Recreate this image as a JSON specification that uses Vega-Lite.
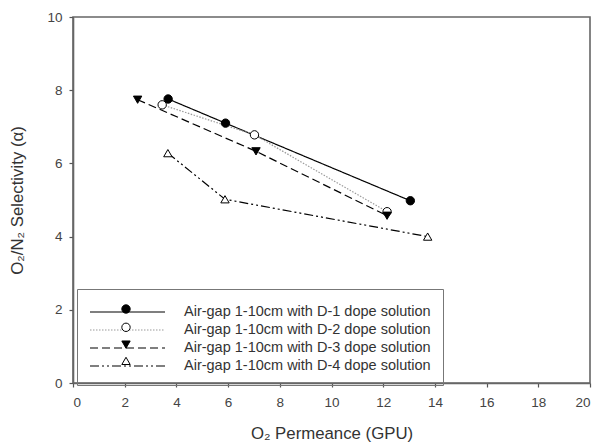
{
  "$schema": "https://vega.github.io/schema/vega-lite/v6.json",
  "width": 517,
  "height": 366,
  "autosize": {"type": "none"},
  "padding": {"left": 73, "top": 17, "right": 10, "bottom": 61},
  "background": "white",
  "config": {
    "font": "Liberation Sans",
    "view": {"stroke": "#666", "strokeWidth": 1.6},
    "axis": {
      "grid": false,
      "domainColor": "#666",
      "domainWidth": 1.6,
      "tickColor": "#555",
      "tickSize": 4,
      "tickWidth": 1.2,
      "labelFont": "Liberation Sans",
      "labelFontSize": 13.5,
      "labelColor": "#444",
      "titleFont": "Liberation Sans",
      "titleFontSize": 16.8,
      "titleFontWeight": "normal",
      "titleColor": "#333"
    }
  },
  "data": {
    "values": [
      {"series": "Air-gap 1-10cm with D-1 dope solution", "dope": "D-1", "permeance": 3.68, "selectivity": 7.76},
      {"series": "Air-gap 1-10cm with D-1 dope solution", "dope": "D-1", "permeance": 5.9, "selectivity": 7.1},
      {"series": "Air-gap 1-10cm with D-1 dope solution", "dope": "D-1", "permeance": 13.05, "selectivity": 4.98},
      {"series": "Air-gap 1-10cm with D-2 dope solution", "dope": "D-2", "permeance": 3.45, "selectivity": 7.6},
      {"series": "Air-gap 1-10cm with D-2 dope solution", "dope": "D-2", "permeance": 7.02, "selectivity": 6.78},
      {"series": "Air-gap 1-10cm with D-2 dope solution", "dope": "D-2", "permeance": 12.15, "selectivity": 4.68},
      {"series": "Air-gap 1-10cm with D-3 dope solution", "dope": "D-3", "permeance": 2.5, "selectivity": 7.74},
      {"series": "Air-gap 1-10cm with D-3 dope solution", "dope": "D-3", "permeance": 7.08, "selectivity": 6.33},
      {"series": "Air-gap 1-10cm with D-3 dope solution", "dope": "D-3", "permeance": 12.15, "selectivity": 4.57},
      {"series": "Air-gap 1-10cm with D-4 dope solution", "dope": "D-4", "permeance": 3.67, "selectivity": 6.28},
      {"series": "Air-gap 1-10cm with D-4 dope solution", "dope": "D-4", "permeance": 5.88, "selectivity": 5.02},
      {"series": "Air-gap 1-10cm with D-4 dope solution", "dope": "D-4", "permeance": 13.72, "selectivity": 4.0}
    ]
  },
  "encoding": {
    "x": {
      "field": "permeance", "type": "quantitative",
      "scale": {"domain": [0, 20], "nice": false, "zero": false},
      "axis": {"values": [0, 2, 4, 6, 8, 10, 12, 14, 16, 18, 20], "title": "O₂ Permeance (GPU)", "labelPadding": 8, "titlePadding": 17}
    },
    "y": {
      "field": "selectivity", "type": "quantitative",
      "scale": {"domain": [0, 10], "nice": false},
      "axis": {"values": [0, 2, 4, 6, 8, 10], "title": "O₂/N₂ Selectivity (α)", "labelPadding": 7, "titlePadding": 20}
    }
  },
  "layer": [
    {
      "mark": {"type": "line", "strokeWidth": 1.2},
      "encoding": {
        "strokeDash": {
          "field": "series", "type": "nominal",
          "scale": {"range": [[1, 0], [1.5, 1.5], [8, 4], [9, 3, 2, 3, 2, 3]]},
          "legend": {
            "orient": "none", "legendX": 4, "legendY": 272,
            "title": null,
            "symbolType": "M-1,0H6.5",
            "symbolSize": 400,
            "symbolStrokeWidth": 1.2,
            "labelFontSize": 14.5,
            "labelColor": "#333",
            "labelLimit": 400,
            "labelOffset": 73,
            "padding": 12,
            "rowPadding": -3.9,
            "strokeColor": "#777"
          }
        },
        "color": {
          "field": "series", "type": "nominal",
          "scale": {"range": ["#000000", "#9a9a9a", "#000000", "#000000"]}
        }
      }
    },
    {
      "mark": {"type": "point", "filled": true, "size": 70, "strokeWidth": 1, "opacity": 1},
      "encoding": {
        "shape": {
          "field": "dope", "type": "nominal",
          "scale": {"range": ["circle", "circle", "triangle-down", "triangle-up"]},
          "legend": {
            "orient": "none", "legendX": 38, "legendY": 277,
            "title": null,
            "symbolSize": 70,
            "symbolStrokeWidth": 1,
            "labelFontSize": 0.5,
            "labelOffset": 0,
            "labelColor": "transparent",
            "padding": 10,
            "rowPadding": 4.3
          }
        },
        "fill": {
          "field": "dope", "type": "nominal",
          "scale": {"range": ["black", "white", "black", "white"]}
        },
        "stroke": {
          "field": "dope", "type": "nominal",
          "scale": {"range": ["black", "black", "black", "black"]}
        }
      }
    }
  ]
}
